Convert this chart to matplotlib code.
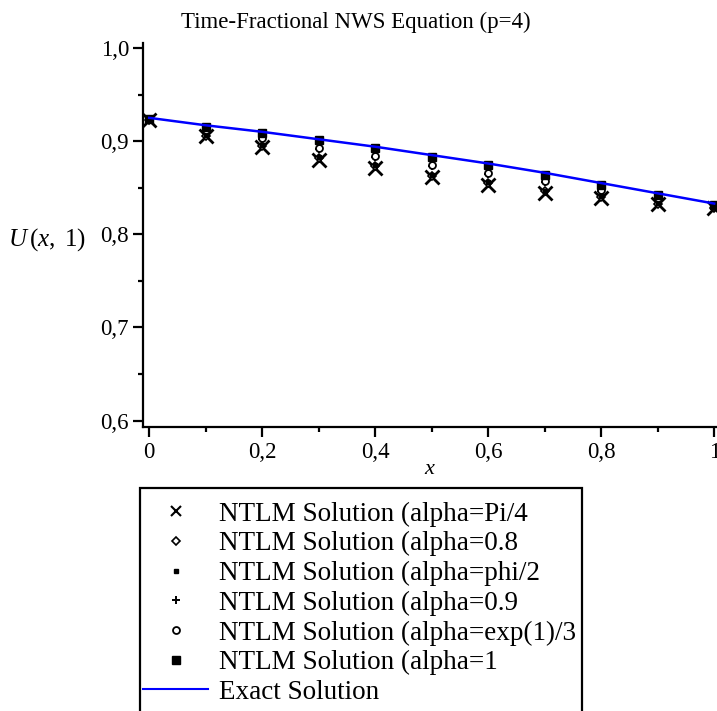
import matplotlib
matplotlib.use("Agg")
import matplotlib.pyplot as plt
import matplotlib.ticker as mticker
from matplotlib.patches import Rectangle
from matplotlib.lines import Line2D

plt.rcParams['font.family'] = 'Liberation Serif'
plt.rcParams['mathtext.fontset'] = 'custom'
plt.rcParams['mathtext.rm'] = 'Liberation Serif'
plt.rcParams['mathtext.it'] = 'Liberation Serif:italic'

# data
x = [0.0, 0.1, 0.2, 0.3, 0.4, 0.5, 0.6, 0.7, 0.8, 0.9, 1.0]
u_pi4 = [0.923, 0.905, 0.894, 0.880, 0.871, 0.861, 0.853, 0.844, 0.839, 0.832, 0.828]
u_08 = [0.923, 0.906, 0.895, 0.882, 0.873, 0.863, 0.855, 0.846, 0.840, 0.833, 0.828]
u_phi2 = [0.923, 0.907, 0.896, 0.883, 0.874, 0.864, 0.856, 0.847, 0.841, 0.834, 0.829]
u_09 = [0.924, 0.911, 0.902, 0.892, 0.883, 0.873, 0.865, 0.856, 0.847, 0.838, 0.830]
u_e3 = [0.924, 0.912, 0.903, 0.893, 0.884, 0.874, 0.866, 0.857, 0.848, 0.839, 0.830]
u_1 = [0.924, 0.915, 0.909, 0.901, 0.893, 0.883, 0.874, 0.864, 0.853, 0.842, 0.831]
u_exact = [0.925, 0.917, 0.910, 0.902, 0.894, 0.885, 0.876, 0.866, 0.855, 0.844, 0.833]

labels = ['NTLM Solution (alpha=Pi/4', 'NTLM Solution (alpha=0.8',
          'NTLM Solution (alpha=phi/2', 'NTLM Solution (alpha=0.9',
          'NTLM Solution (alpha=exp(1)/3', 'NTLM Solution (alpha=1',
          'Exact Solution']

fig = plt.figure(figsize=(7.17, 7.11), dpi=100)
W, H = 717, 711
ax = fig.add_axes([143 / W, 1 - 426.7 / H, (717 - 143) / W, (426.7 - 43.3) / H])

ax.plot(x, u_pi4, ls='none', marker='x', ms=9.5, mew=2, color='black', zorder=3)
ax.plot(x, u_08, ls='none', marker='D', ms=4, mew=1.2, mfc='white', color='black', zorder=3)
ax.plot(x, u_phi2, ls='none', marker='s', ms=2.5, color='black', zorder=3)
ax.plot(x, u_09, ls='none', marker='+', ms=6, mew=1.4, color='black', zorder=3)
ax.plot(x, u_e3, ls='none', marker='o', ms=5, mew=1.3, mfc='white', color='black', zorder=3)
ax.plot(x, u_1, ls='none', marker='s', ms=6, color='black', zorder=3)
ax.plot(x, u_exact, color='#0000ff', lw=1.8, zorder=4)

ax.set_xlim(-0.011, 1.005)
ax.set_ylim(0.5935, 1.005)
for s in ['top', 'right']:
    ax.spines[s].set_visible(False)
for s in ['left', 'bottom']:
    ax.spines[s].set_linewidth(1.6)

comma = mticker.FuncFormatter(lambda v, p: ('%g' % round(v, 2)).replace('.', ',') if abs(v - round(v)) > 1e-9 else '%d' % round(v))
ax.xaxis.set_major_locator(mticker.FixedLocator([0, 0.2, 0.4, 0.6, 0.8, 1.0]))
ax.xaxis.set_minor_locator(mticker.FixedLocator([0.1, 0.3, 0.5, 0.7, 0.9]))
ax.yaxis.set_major_locator(mticker.FixedLocator([0.6, 0.7, 0.8, 0.9, 1.0]))
ax.yaxis.set_minor_locator(mticker.FixedLocator([0.65, 0.75, 0.85, 0.95]))
ax.xaxis.set_major_formatter(comma)
ax.yaxis.set_major_formatter(mticker.FuncFormatter(lambda v, p: ('%.1f' % v).replace('.', ',')))
ax.tick_params(which='major', length=7, width=1.6, labelsize=16.5, pad=3)
ax.tick_params(which='minor', length=3.6, width=1.6)
ax.tick_params(axis='x', which='major', pad=4)

ax.set_xlabel(r'$x$', fontsize=16, labelpad=-2)
fig.text(8 / W, 1 - 240 / H, r'$U\,(x,\ 1)$', fontsize=18, ha='left', va='center')
fig.text(356 / W, 1 - 22 / H, 'Time-Fractional NWS Equation (p=4)', fontsize=16.5,
         ha='center', va='center')

# legend, frame runs off the bottom of the picture
handles = [
    Line2D([], [], ls='none', marker='x', ms=6.5, mew=1.5, color='black'),
    Line2D([], [], ls='none', marker='D', ms=4, mew=1.2, mfc='white', color='black'),
    Line2D([], [], ls='none', marker='s', ms=2.5, color='black'),
    Line2D([], [], ls='none', marker='+', ms=6, mew=1.4, color='black'),
    Line2D([], [], ls='none', marker='o', ms=5, mew=1.3, mfc='white', color='black'),
    Line2D([], [], ls='none', marker='s', ms=6, color='black'),
    Line2D([], [], color='#0000ff', lw=1.5),
]
fig.patches.append(Rectangle((140 / W, -0.05), (582 - 140) / W, 0.05 + (711 - 488) / H,
                             transform=fig.transFigure, fill=False, lw=1.6,
                             edgecolor='black'))
fig.legend(handles, labels, loc='upper left', bbox_to_anchor=(138 / W, 1 - 496 / H),
           frameon=False, fontsize=19.5, handlelength=2.4, handletextpad=0.38,
           labelspacing=0.17, borderpad=0.2, borderaxespad=0)

fig.savefig('out.png', dpi=100)
